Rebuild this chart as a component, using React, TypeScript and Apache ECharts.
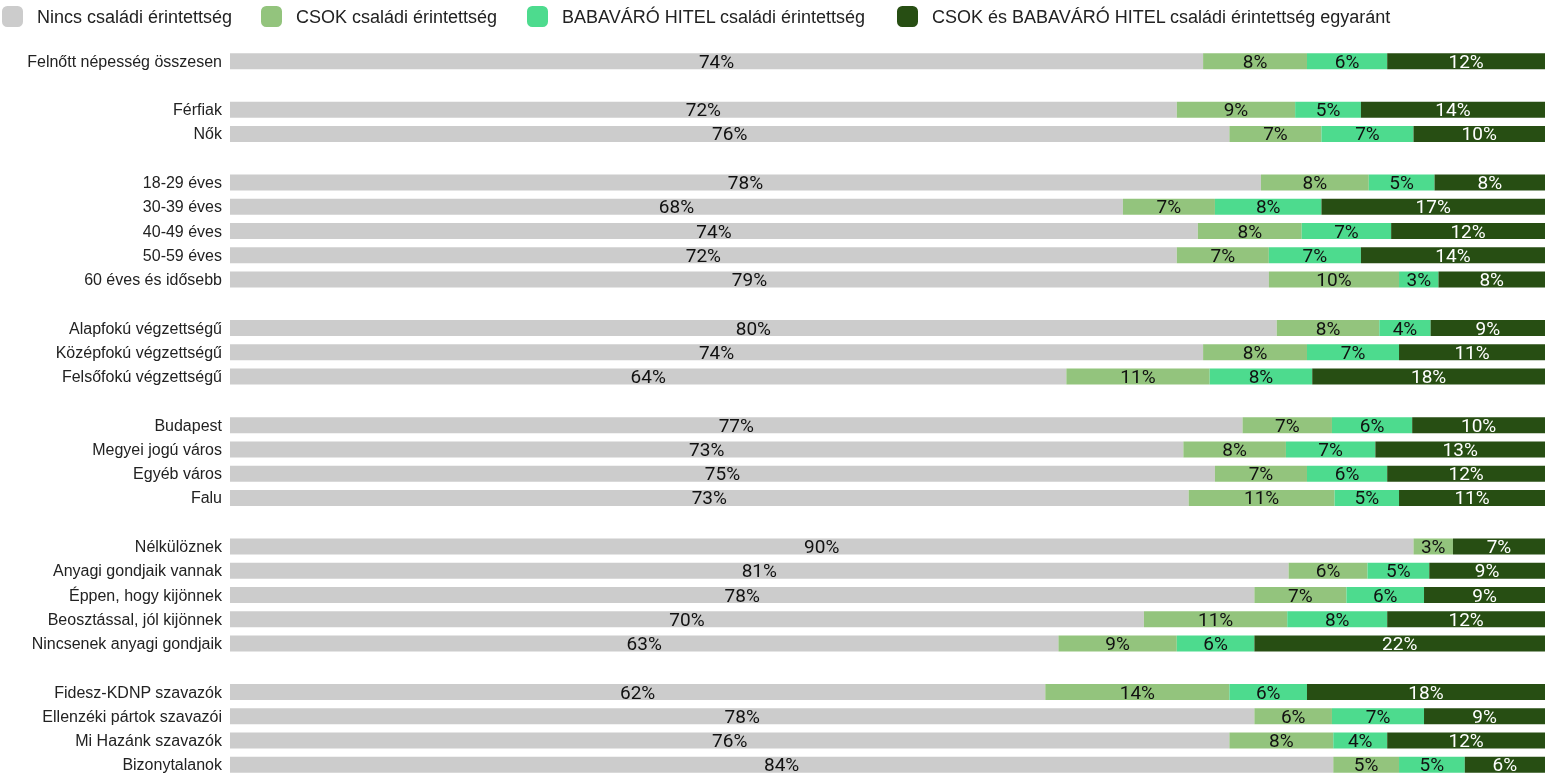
import React, { useEffect, useRef } from "react";
import * as echarts from "echarts";

const seriesNames = [
  "Nincs családi érintettség",
  "CSOK családi érintettség",
  "BABAVÁRÓ HITEL családi érintettség",
  "CSOK és BABAVÁRÓ HITEL családi érintettség egyaránt",
];
const colors = ["#cccccc", "#93c47d", "#4ddb8e", "#274e13"];
const legendLefts = [2, 261, 527, 897];

// groups of categories (blank row between groups)
const groups: string[][] = [
  ["Felnőtt népesség összesen"],
  ["Férfiak", "Nők"],
  ["18-29 éves", "30-39 éves", "40-49 éves", "50-59 éves", "60 éves és idősebb"],
  ["Alapfokú végzettségű", "Középfokú végzettségű", "Felsőfokú végzettségű"],
  ["Budapest", "Megyei jogú város", "Egyéb város", "Falu"],
  ["Nélkülöznek", "Anyagi gondjaik vannak", "Éppen, hogy kijönnek", "Beosztással, jól kijönnek", "Nincsenek anyagi gondjaik"],
  ["Fidesz-KDNP szavazók", "Ellenzéki pártok szavazói", "Mi Hazánk szavazók", "Bizonytalanok"],
];

const nincs = [74.0, 72.0, 76.0, 78.4, 67.9, 73.6, 72.0, 79.0, 79.6, 74.0, 63.6, 77.0, 72.5, 74.9, 72.9, 90.0, 80.5, 77.9, 69.5, 63.0, 62.0, 77.9, 76.0, 83.9];
const csok = [7.9, 9.0, 7.0, 8.2, 7.0, 7.9, 7.0, 9.9, 7.8, 7.9, 10.9, 6.8, 7.8, 7.0, 11.1, 3.0, 6.0, 7.0, 10.9, 9.0, 14.0, 5.9, 7.9, 5.0];
const babavaro = [6.1, 5.0, 7.0, 5.0, 8.1, 6.8, 7.0, 3.0, 3.9, 7.0, 7.8, 6.1, 6.8, 6.1, 4.9, 0, 4.7, 5.9, 7.6, 5.9, 5.9, 7.0, 4.1, 5.0];
const mindketto = [12.0, 14.0, 10.0, 8.4, 17.0, 11.7, 14.0, 8.1, 8.7, 11.1, 17.7, 10.1, 12.9, 12.0, 11.1, 7.0, 8.8, 9.2, 12.0, 22.1, 18.1, 9.2, 12.0, 6.1];

const seriesValues = [nincs, csok, babavaro, mindketto];

export default function App() {
  const ref = useRef<HTMLDivElement>(null);
  useEffect(() => {
    if (!ref.current) return;
    const chart = echarts.init(ref.current, null, { renderer: "svg" });

    const cats: string[] = [];
    const idxMap: (number | null)[] = [];
    let k = 0;
    groups.forEach((g, gi) => {
      if (gi > 0) {
        cats.push(" ".repeat(gi));
        idxMap.push(null);
      }
      g.forEach((c) => {
        cats.push(c);
        idxMap.push(k++);
      });
    });

    const series = seriesValues.map((vals, si) => ({
      name: seriesNames[si],
      type: "bar",
      stack: "total",
      barWidth: "66%",
      itemStyle: { color: colors[si] },
      data: idxMap.map((i) => (i === null ? null : vals[i])),
      label: {
        show: true,
        position: "inside",
        fontFamily: "Roboto",
        fontSize: 19,
        color: si === 3 ? "#ffffff" : "#111111",
        textBorderColor: colors[si],
        textBorderWidth: 2,
        formatter: (p: any) =>
          p.value == null || p.value < 1 ? "" : Math.round(p.value) + "%",
      },
    }));

    const legends = seriesNames.map((n, i) => ({
      left: legendLefts[i],
      top: 6,
      padding: 0,
      itemWidth: 21,
      itemHeight: 21,
      icon: "roundRect",
      textStyle: {
        fontFamily: "Liberation Sans",
        fontSize: 18,
        color: "#222",
        padding: [0, 0, 0, 9],
      },
      data: [n],
    }));

    chart.setOption({
      animation: false,
      legend: legends,
      grid: { left: 230, right: 2, top: 49, bottom: 1, containLabel: false },
      xAxis: { type: "value", min: 0, max: 100, show: false },
      yAxis: {
        type: "category",
        inverse: true,
        data: cats,
        axisLine: { show: false },
        axisTick: { show: false },
        axisLabel: {
          margin: 8,
          fontFamily: "Liberation Sans",
          fontSize: 16,
          color: "#222",
        },
      },
      series,
    });
    return () => chart.dispose();
  }, []);
  return (
    <div
      ref={ref}
      style={{ position: "fixed", left: 0, top: 0, width: 1547, height: 778 }}
    />
  );
}
